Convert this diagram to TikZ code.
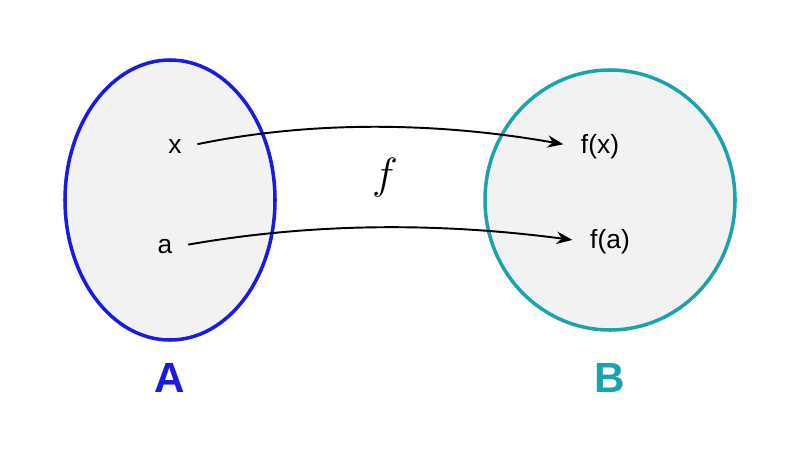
\documentclass[tikz,border=0pt]{standalone}
\usepackage{fontspec}
\setmainfont{Liberation Sans}
\usetikzlibrary{shapes.geometric,arrows.meta}
\definecolor{cA}{HTML}{1A1AE0}
\definecolor{cB}{HTML}{1AA3AE}
\definecolor{fillg}{HTML}{F2F2F2}
\begin{document}
\begin{tikzpicture}[
  set/.style={ellipse,fill=fillg,line width=2pt,inner sep=0pt},
  lbl/.style={font=\fontsize{15}{18}\selectfont,inner sep=1pt},
  setname/.style={font=\fontsize{24}{28}\selectfont\bfseries},
  map/.style={-{Stealth[length=9pt,width=7pt]},line width=1.1pt,shorten <=8pt,shorten >=9pt}]
\useasboundingbox (0,0) rectangle (16,9);
\node[set,draw=cA,minimum width=4.2cm,minimum height=5.6cm] (A) at (3.4,5.0) {};
\node[set,draw=cB,minimum width=5.0cm,minimum height=5.2cm] (B) at (12.2,5.0) {};
\node[lbl] (x) at (3.5,6.06) {x};
\node[lbl] (a) at (3.3,4.06) {a};
\node[lbl] (fx) at (12.0,6.06) {f(x)};
\node[lbl] (fa) at (12.2,4.16) {f(a)};
\node at (7.7,5.45) {\fontsize{28}{32}\selectfont$f$};
\node[setname,text=cA] at (3.4,1.45) {A};
\node[setname,text=cB] at (12.2,1.45) {B};
\draw[map] (x.east) .. controls (6.3,6.6) and (8.8,6.55) .. (fx.west);
\draw[map] (a.east) .. controls (6.3,4.55) and (8.8,4.55) .. (fa.west);
\end{tikzpicture}
\end{document}
